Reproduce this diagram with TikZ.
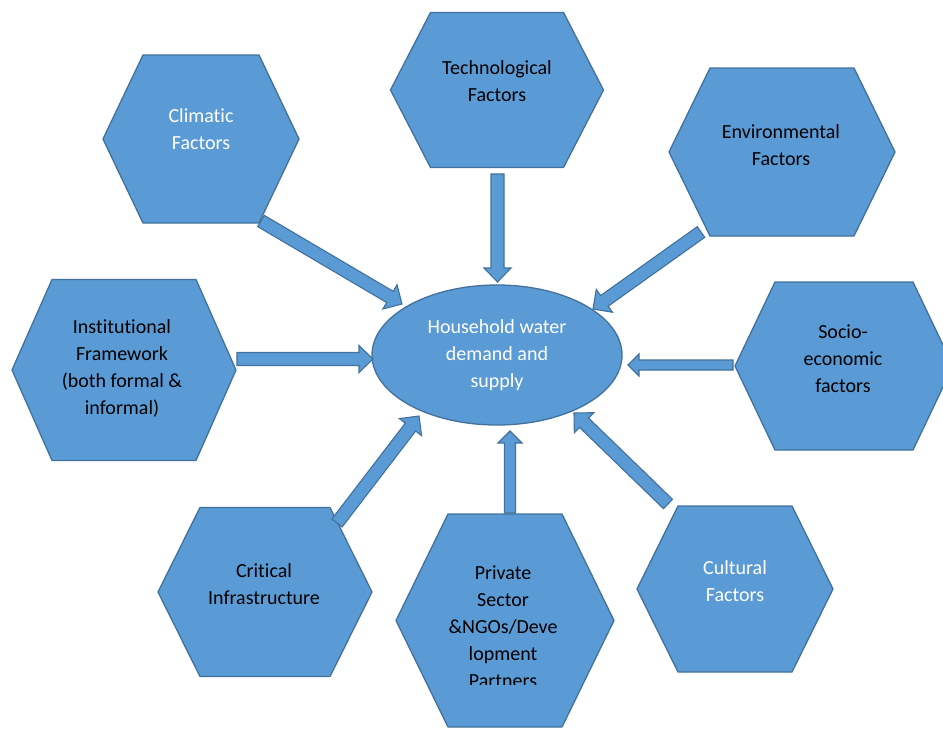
\documentclass[tikz,border=0pt]{standalone}
\usepackage{fontspec}
\setmainfont{Carlito}[Ligatures=NoCommon]
\usetikzlibrary{calc,shapes.geometric}
\definecolor{shapeblue}{HTML}{5B9BD5}
\definecolor{edgeblue}{HTML}{41719C}
\tikzset{
  shapefill/.style={fill=shapeblue, draw=edgeblue, line width=1.3pt, line join=miter},
  arrowbody/.style={fill=shapeblue, draw=edgeblue, line width=1.1pt, line join=miter},
  lbl/.style={align=center, font=\fontsize{20}{27}\selectfont, text=black, inner sep=0pt},
  lightlbl/.style={lbl, text=white},
}
% hexagon: name, centre x, centre y, width, height, horizontal inset of the top edge
\newcommand\hexagonat[6]{%
  \draw[shapefill] ({#2-#4/2},#3) -- ({#2-#4/2+#6},{#3-#5/2}) -- ({#2+#4/2-#6},{#3-#5/2})
    -- ({#2+#4/2},#3) -- ({#2+#4/2-#6},{#3+#5/2}) -- ({#2-#4/2+#6},{#3+#5/2}) -- cycle;
  \coordinate (#1) at (#2,#3);}
% block arrow: from, to, shaft half width, head half width, head length
\newcommand\blockarrow[5]{%
  \draw[arrowbody] let \p1=(#1), \p2=(#2), \n1={atan2(\y2-\y1,\x2-\x1)},
      \n2={veclen(\x2-\x1,\y2-\y1)-#5} in
    ($(\p1)+(\n1+90:#3pt)$) -- ($(\p1)+(\n1:\n2)+(\n1+90:#3pt)$)
    -- ($(\p1)+(\n1:\n2)+(\n1+90:#4pt)$) -- (\p2)
    -- ($(\p1)+(\n1:\n2)+(\n1-90:#4pt)$) -- ($(\p1)+(\n1:\n2)+(\n1-90:#3pt)$)
    -- ($(\p1)+(\n1-90:#3pt)$) -- cycle;}
\begin{document}
\begin{tikzpicture}[x=1pt,y=-1pt]
  \useasboundingbox (0,0) rectangle (943,729);
  \fill[white] (0,0) rectangle (943,729);
  \clip (0,0) rectangle (943,729);

  % factor hexagons
  \hexagonat{clim}{201}{139}{196}{168}{40}
  \hexagonat{tech}{497}{90}{213}{155}{40}
  \hexagonat{env}{782}{152}{226}{168}{41}
  \hexagonat{inst}{124}{370}{224}{181}{40}
  \hexagonat{socio}{844}{366}{218}{168}{40}
  \hexagonat{crit}{265}{592}{214}{169}{42}
  \hexagonat{priv}{505}{620.5}{218}{213}{52}
  \hexagonat{cult}{735}{589}{196}{166}{41}

  % central ellipse
  \node[ellipse, shapefill, minimum width=250pt, minimum height=140pt, lightlbl] (house)
    at (497,355) {Household water\\demand and\\supply};

  % labels
  \node[lightlbl] (climt) at (201,129.5) {Climatic\\Factors};
  \node[lbl] (techt) at (497,81.5) {Technological\\Factors};
  \node[lbl] (envt) at (781,145) {Environmental\\Factors};
  \node[lbl] (instt) at (122,368.5) {Institutional\\Framework\\(both formal \&\\informal)};
  \node[lbl] (sociot) at (843,358.5) {Socio-\\economic\\factors};
  \node[lbl] (critt) at (264,584.5) {Critical\\Infrastructure};
  \node[lightlbl] (cultt) at (735,581) {Cultural\\Factors};
  \begin{scope}
    \clip (380,514) rectangle (630,684);
    \node[lbl] (privt) at (503,627) {Private\\Sector\\\&NGOs/Deve\\lopment\\Partners};
  \end{scope}

  % arrow end points
  \coordinate (climA) at (261,221);   \coordinate (climB) at (402,304);
  \coordinate (techA) at (497.5,174); \coordinate (techB) at (497.5,282);
  \coordinate (envA) at (701,232);    \coordinate (envB) at (593,309);
  \coordinate (instA) at (237,359);   \coordinate (instB) at (373,359);
  \coordinate (socioA) at (733,365);  \coordinate (socioB) at (628,365);
  \coordinate (critA) at (337,523);   \coordinate (critB) at (419,416);
  \coordinate (privA) at (510,513);   \coordinate (privB) at (510,431);
  \coordinate (cultA) at (668,504);   \coordinate (cultB) at (574,413);

  % arrows into the centre
  \blockarrow{climA}{climB}{6.5}{14}{14}
  \blockarrow{techA}{techB}{6.5}{13.5}{14}
  \blockarrow{envA}{envB}{6.5}{14}{14}
  \blockarrow{instA}{instB}{6.5}{13.5}{14}
  \blockarrow{socioA}{socioB}{5}{11}{11}
  \blockarrow{critA}{critB}{6.5}{14}{14}
  \blockarrow{privA}{privB}{5.5}{12}{12}
  \blockarrow{cultA}{cultB}{6.5}{14}{14}
\end{tikzpicture}
\end{document}
